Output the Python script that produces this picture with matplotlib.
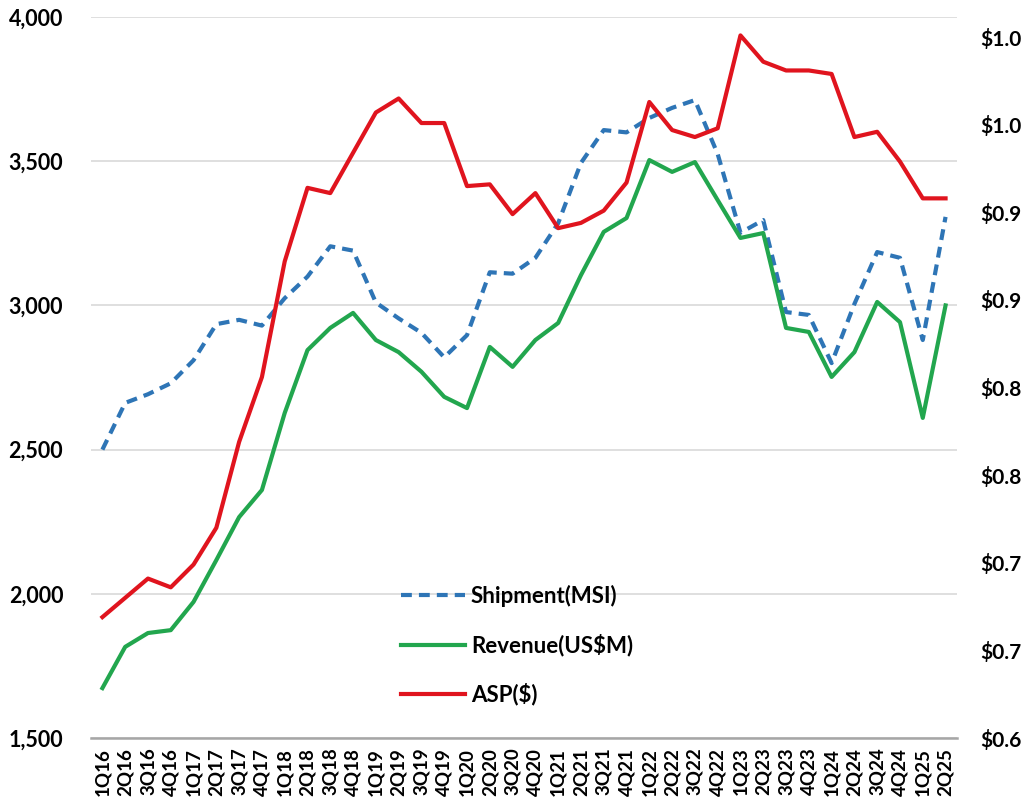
import numpy as np
import matplotlib
matplotlib.use('Agg')
import matplotlib.pyplot as plt

plt.rcParams['font.family'] = ['Lato', 'DejaVu Sans']
plt.rcParams['font.weight'] = 'bold'

### quarters 1Q16 .. 2Q25
quarters = ['1Q16', '2Q16', '3Q16', '4Q16', '1Q17', '2Q17', '3Q17', '4Q17',
            '1Q18', '2Q18', '3Q18', '4Q18', '1Q19', '2Q19', '3Q19', '4Q19',
            '1Q20', '2Q20', '3Q20', '4Q20', '1Q21', '2Q21', '3Q21', '4Q21',
            '1Q22', '2Q22', '3Q22', '4Q22', '1Q23', '2Q23', '3Q23', '4Q23',
            '1Q24', '2Q24', '3Q24', '4Q24', '1Q25', '2Q25']

shipment = [2500, 2662, 2692, 2730, 2810, 2935, 2950, 2930,
            3025, 3100, 3205, 3190, 3010, 2955, 2905, 2820,
            2897, 3115, 3110, 3165, 3285, 3494, 3608, 3600,
            3650, 3685, 3712, 3525, 3252, 3296, 2977, 2967,
            2800, 3005, 3185, 3165, 2880, 3307]

revenue = [1673, 1816, 1864, 1874, 1972, 2117, 2266, 2360,
           2627, 2845, 2922, 2974, 2880, 2838, 2770, 2683,
           2644, 2856, 2787, 2880, 2939, 3105, 3255, 3303,
           3504, 3463, 3497, 3365, 3234, 3251, 2922, 2908,
           2752, 2838, 3012, 2942, 2610, 3000]

asp = [0.669, 0.680, 0.691, 0.686, 0.699, 0.720, 0.769, 0.806,
       0.872, 0.914, 0.911, 0.934, 0.957, 0.965, 0.951, 0.951,
       0.915, 0.916, 0.899, 0.911, 0.891, 0.894, 0.901, 0.917,
       0.963, 0.947, 0.943, 0.948, 1.001, 0.986, 0.981, 0.981,
       0.979, 0.943, 0.946, 0.929, 0.908, 0.908]

left_ticks = [1500, 2000, 2500, 3000, 3500, 4000]
asp_ticks = [0.60, 0.65, 0.70, 0.75, 0.80, 0.85, 0.90, 0.95, 1.00]
asp_labels = ['$0.6', '$0.7', '$0.7', '$0.8', '$0.8', '$0.9', '$0.9', '$1.0', '$1.0']

fig = plt.figure(figsize=(10.26, 8.07), dpi=100)
ax = fig.add_axes([0.0887, 0.0855, 0.844, 0.8934])
ax2 = ax.twinx()

x = np.arange(len(quarters))

### left axis: shipment + revenue
l1, = ax.plot(x, shipment, color='#2E75B6', lw=3.0, dashes=(2.6, 1.7), label='Shipment(MSI)')
l2, = ax.plot(x, revenue, color='#22A64E', lw=3.0, label='Revenue(US$M)')
### right axis: ASP
l3, = ax2.plot(x, asp, color='#E0141E', lw=3.0, label='ASP($)')

ax.set_xlim(-0.5, len(quarters) - 0.5)
ax.set_ylim(1500, 4000)
ax.set_yticks(left_ticks)
ax.set_yticklabels(['{:,}'.format(v) for v in left_ticks])
ax.set_xticks(x)
ax.set_xticklabels(quarters, rotation=90)
ax.grid(axis='y', color='#D9D9D9', lw=1.2)
ax.set_axisbelow(True)

ax2.set_ylim(0.60, 1.0115)
ax2.set_yticks(asp_ticks)
ax2.set_yticklabels(asp_labels)

for a in (ax, ax2):
    for s in a.spines.values():
        s.set_visible(False)
ax.spines['bottom'].set_visible(True)
ax.spines['bottom'].set_color('#A6A6A6')
ax.spines['bottom'].set_linewidth(1.8)

ax.tick_params(axis='y', length=0, pad=20, labelsize=15.5)
ax.tick_params(axis='x', length=0, pad=7, labelsize=13.5)
ax2.tick_params(axis='y', length=0, pad=17, labelsize=15)

leg = ax2.legend(handles=[l1, l2, l3], loc='upper left', bbox_to_anchor=(0.358, 0.212),
                 frameon=False, fontsize=16, handlelength=2.9, handletextpad=0.25,
                 labelspacing=1.2, borderpad=0, borderaxespad=0)

fig.savefig('out.png', dpi=100)
